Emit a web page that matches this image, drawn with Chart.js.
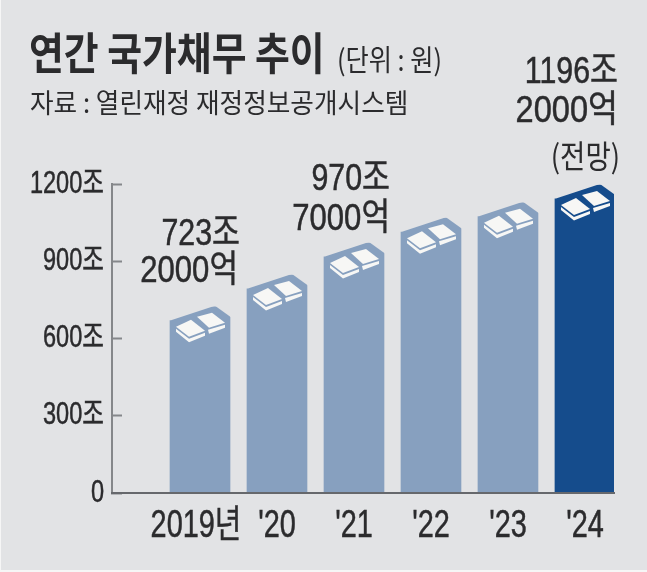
<!DOCTYPE html>
<html>
<head>
<meta charset="utf-8">
<script src="https://cdn.jsdelivr.net/npm/chart.js@4"></script>
<style>
html,body{margin:0;padding:0;background:#fff}
#wrap{position:relative;width:647px;height:572px;background:#e2e3e5;box-shadow:inset 1px 0 #f6f6f6,inset 0 -2px #f6f6f6}
canvas{display:block}
</style>
</head>
<body>
<div id="wrap"><canvas id="debtChart" width="647" height="572"></canvas></div>
<script>
const years = [0,1,2,3,4,5]
const yearLabels = ['2019년 ',"'20","'21","'22","'23","'24"]
const debt = [723.2,846.6,970.7,1067.4,1126.8,1196.2]
const yTicks = [0,300,600,900,1200]
const yTickLabels = ['0','300조','600조','900조','1200조']

const bgColor = '#e2e3e5'
const textColor = '#2b2b2d'
const latin = '"Liberation Sans","Noto Sans CJK KR",sans-serif'
const hangul = '"Noto Sans CJK KR",sans-serif'

// the paper's type is condensed and a bit heavy, so every canvas text goes through a x scale and a thin stroke
let textScale = 0.76
let textStroke = 0.5

const condensedText = {
    id:'condensedText',
    beforeDraw(chart){
        const ctx = chart.ctx
        if (ctx._patched) return
        ctx._patched = true
        const fill = ctx.fillText
        ctx.fillText = function(t,x,y){
            this.save()
            this.translate(x,y)
            this.scale(textScale,1)
            if (textStroke>0){
                this.strokeStyle = this.fillStyle
                this.lineWidth = textStroke
                this.strokeText(t,0,0)
            }
            fill.call(this,t,0,0)
            this.restore()
        }
    }
}

function poly(ctx,x,y,pts,color){
    ctx.fillStyle = color
    ctx.beginPath()
    pts.forEach((p,i)=>{
        if (i==0) ctx.moveTo(x+p[0],y+p[1])
        else ctx.lineTo(x+p[0],y+p[1])
    })
    ctx.closePath()
    ctx.fill()
}

// cut the top corners off each bar and lay the two white bricks on it
const barTops = {
    id:'barTops',
    afterDatasetsDraw(chart){
        const ctx = chart.ctx
        chart.getDatasetMeta(0).data.forEach((bar)=>{
            const x = bar.x-bar.width/2
            const y = bar.y
            const w = bar.width
            poly(ctx,x-2,y-3,[[0,0],[47,0],[47,2],[3,16.5],[0,16.5]],bgColor)
            poly(ctx,x,y-3,[[45,0],[w+2,0],[w+2,13.5],[w+1,13.5],[45,2]],bgColor)
            const white = '#f7f7f5'
            poly(ctx,x,y,[[6,20],[21,13],[35,24],[19,30]],white)
            poly(ctx,x,y,[[6,22],[19,32],[35,26],[35,29],[19,35.5],[6,25]],white)
            poly(ctx,x,y,[[27,10],[42,6],[55,16],[39,21]],white)
            poly(ctx,x,y,[[38,23],[55,18],[55,21],[39,27]],white)
        })
    }
}

const texts = [
    {t:'연간 국가채무 추이',x:29,y:53,size:44,weight:'bold',font:hangul,sx:0.86,align:'left',stroke:0},
    {t:'(단위 : 원)',x:337,y:60,size:29,weight:'normal',font:hangul,sx:0.87,align:'left',stroke:0},
    {t:'자료 : 열린재정 재정정보공개시스템',x:30,y:103,size:27,weight:'normal',font:hangul,sx:0.95,align:'left',stroke:0},
    {t:'723조',x:240,y:235,size:37,weight:'normal',font:latin,sx:0.82,align:'right',stroke:0.5},
    {t:'2000억',x:238,y:272,size:37,weight:'normal',font:latin,sx:0.84,align:'right',stroke:0.5},
    {t:'970조',x:390,y:180,size:37,weight:'normal',font:latin,sx:0.82,align:'right',stroke:0.5},
    {t:'7000억',x:390,y:220,size:37,weight:'normal',font:latin,sx:0.84,align:'right',stroke:0.5},
    {t:'1196조',x:618,y:73,size:37,weight:'normal',font:latin,sx:0.82,align:'right',stroke:0.5},
    {t:'2000억',x:618,y:112,size:37,weight:'normal',font:latin,sx:0.88,align:'right',stroke:0.5},
    {t:'(전망)',x:620,y:156,size:32,weight:'normal',font:hangul,sx:0.86,align:'right',stroke:0}
]

const notes = {
    id:'notes',
    afterDraw(chart){
        const ctx = chart.ctx
        ctx.save()
        ctx.fillStyle = textColor
        ctx.textBaseline = 'middle'
        texts.forEach((n)=>{
            ctx.font = `${n.weight} ${n.size}px ${n.font}`
            ctx.textAlign = n.align
            textScale = n.sx
            textStroke = n.stroke
            ctx.fillText(n.t,n.x,n.y)
        })
        textScale = 0.76
        textStroke = 0.5
        ctx.restore()
    }
}

new Chart('debtChart',{
    type:'bar',
    data:{
        datasets:[{
            data:years.map((v,i)=>({x:v,y:debt[i]})),
            backgroundColor:years.map((v)=>v==5 ? '#154c8c' : '#87a0bf'),
            borderWidth:0,
            barThickness:60
        }]
    },
    plugins:[condensedText,barTops,notes],
    options:{
        responsive:false,
        animation:false,
        layout:{padding:{top:184,right:33,left:0,bottom:0}},
        plugins:{legend:{display:false},tooltip:{enabled:false},title:{display:false}},
        scales:{
            x:{
                type:'linear',
                offset:false,
                min:-1.143,
                max:5.377,
                afterBuildTicks(s){ s.ticks = years.map((v)=>({value:v})) },
                afterFit(s){ s.height = 79 },
                grid:{display:false,offset:false},
                border:{display:true,color:'#66686c',width:2,z:1},
                ticks:{
                    autoSkip:false,
                    maxRotation:0,
                    padding:3,
                    color:textColor,
                    font:{family:latin,size:38},
                    callback:(v)=>yearLabels[v]
                }
            },
            y:{
                min:0,
                max:1200,
                afterBuildTicks(s){ s.ticks = yTicks.map((v)=>({value:v})) },
                afterFit(s){ s.width = 112 },
                grid:{drawOnChartArea:false,drawTicks:true,tickLength:-10,tickColor:'#85878a',tickWidth:2},
                border:{display:true,color:'#85878a',width:2},
                ticks:{
                    padding:18,
                    color:textColor,
                    font:{family:latin,size:31},
                    callback:(v)=>yTickLabels[yTicks.indexOf(v)]
                }
            }
        }
    }
})
</script>
</body>
</html>
